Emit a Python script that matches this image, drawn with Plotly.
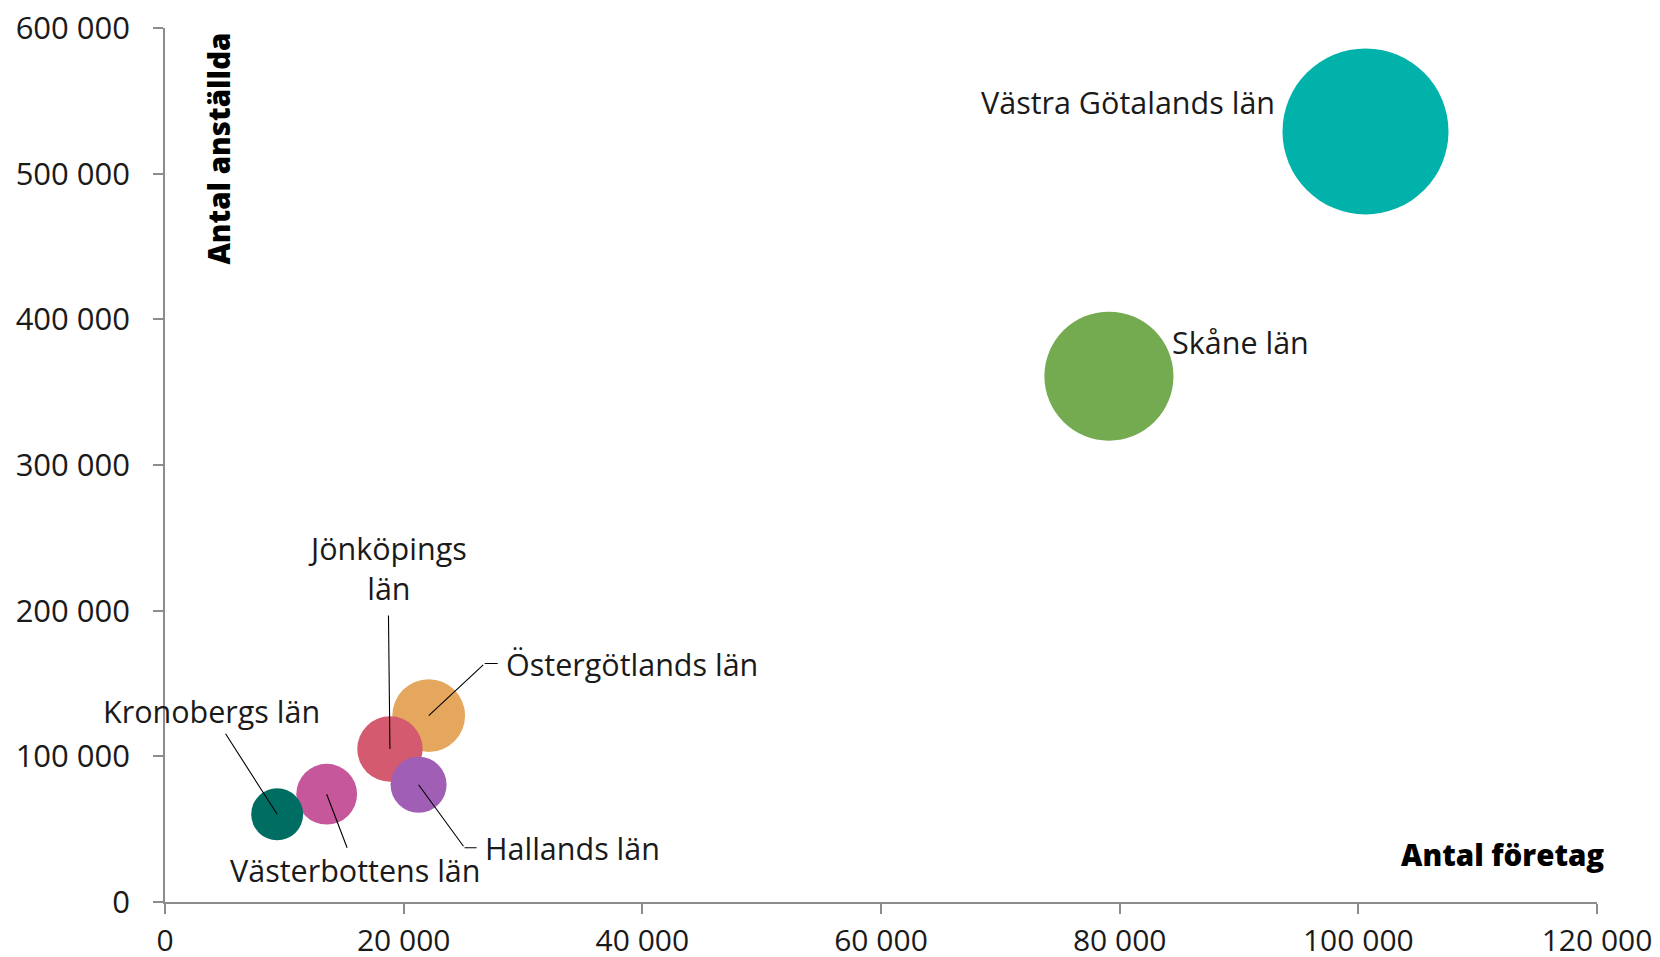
import plotly.graph_objects as go

# ---- data ----
lan = ["Västra Götalands län", "Skåne län", "Östergötlands län", "Jönköpings län",
       "Hallands län", "Västerbottens län", "Kronobergs län"]
etiketter = ["Västra Götalands län", "Skåne län", "Östergötlands län", "Jönköpings<br>län",
             "Hallands län", "Västerbottens län", "Kronobergs län"]
antal_foretag = [100600, 79100, 22100, 18850, 21250, 13550, 9400]
antal_anstallda = [529000, 361000, 128000, 105000, 80500, 74000, 60200]
bubbelvarde = [100, 60.4, 19.2, 15.5, 11.4, 13.4, 9.8]   # relativ bubbelstorlek
farger = ["#00B2A9", "#74AA50", "#E5A75D", "#D35A6F", "#A05EB5", "#C5579A", "#006D63"]

x_ticks = [0, 20000, 40000, 60000, 80000, 100000, 120000]
y_ticks = [0, 100000, 200000, 300000, 400000, 500000, 600000]

# ---- style ----
FONT = "Open Sans"
TXT = "#1a1a1a"
AXC = "#8c8c8c"
MAX_D = 166

fig = go.Figure(go.Scatter(
    x=antal_foretag, y=antal_anstallda, mode="markers",
    marker=dict(size=bubbelvarde, sizemode="area",
                sizeref=2 * max(bubbelvarde) / MAX_D ** 2,
                color=farger, opacity=1, line=dict(width=0)),
    text=lan, hoverinfo="text", cliponaxis=False, showlegend=False))

# label placement (pixel offsets from bubble centre)
placering = {
    "Västra Götalands län": dict(kind="text", xanchor="right", dx=-88, dy=-29),
    "Skåne län": dict(kind="text", xanchor="left", dx=61, dy=-34),
    "Östergötlands län": dict(kind="elbow", ex=56, ey=-52, seg=13),
    "Jönköpings län": dict(kind="line", ax=-2, ay=-181, pad=6),
    "Hallands län": dict(kind="elbow", ex=46, ey=63, seg=12),
    "Västerbottens län": dict(kind="line", ax=29, ay=76, pad=1),
    "Kronobergs län": dict(kind="line", ax=-66, ay=-103, pad=1),
}

lab_font = dict(family=FONT, size=30.5, color=TXT)
annotations = []
for namn, etikett, xv, yv in zip(lan, etiketter, antal_foretag, antal_anstallda):
    p = placering[namn]
    if p["kind"] == "text":
        annotations.append(dict(x=xv, y=yv, xref="x", yref="y", text=etikett,
                                showarrow=False, xanchor=p["xanchor"], yanchor="middle",
                                xshift=p["dx"], yshift=-p["dy"], font=lab_font))
    elif p["kind"] == "line":
        annotations.append(dict(x=xv, y=yv, xref="x", yref="y", text=etikett,
                                showarrow=True, ax=p["ax"], ay=p["ay"], arrowhead=0,
                                arrowwidth=1.1, arrowcolor="#000000", standoff=0,
                                borderpad=p["pad"], align="center", font=lab_font))
    else:
        annotations.append(dict(x=xv, y=yv, xref="x", yref="y", text="",
                                showarrow=True, ax=p["ex"], ay=p["ey"], arrowhead=0,
                                arrowwidth=1.1, arrowcolor="#000000", standoff=0))
        annotations.append(dict(x=xv, y=yv, xref="x", yref="y", text=etikett,
                                showarrow=True, ax=p["seg"], ay=0, arrowhead=0,
                                arrowwidth=1.1, arrowcolor="#000000", standoff=0,
                                xshift=p["ex"], yshift=-p["ey"], xanchor="left",
                                borderpad=7, font=lab_font))

title_font = dict(family=FONT, size=29.5, color="#000000", weight=800)
annotations.append(dict(x=0.0372, y=0.8623, xref="paper", yref="paper",
                        text="Antal anställda", textangle=-90, showarrow=False,
                        xanchor="center", yanchor="middle", font=title_font))
annotations.append(dict(x=1.0063, y=0.054, xref="paper", yref="paper",
                        text="Antal företag", showarrow=False,
                        xanchor="right", yanchor="middle", font=title_font))

axis_common = dict(showgrid=False, zeroline=False, showline=True, linecolor=AXC,
                   linewidth=1.5, ticks="outside", ticklen=10, tickwidth=1.5,
                   tickcolor=AXC, tickformat=",d", automargin=False)

fig.update_layout(
    width=1660, height=957,
    margin=dict(l=165, r=63, t=28, b=55, autoexpand=False),
    paper_bgcolor="white", plot_bgcolor="white",
    separators=", ",
    xaxis=dict(range=[0, 120000], tickvals=x_ticks, ticklabelstandoff=1,
               tickfont=dict(family=FONT, size=30, color=TXT), **axis_common),
    yaxis=dict(range=[0, 600000], tickvals=y_ticks, ticklabelstandoff=17,
               tickfont=dict(family=FONT, size=31, color=TXT), **axis_common),
    annotations=annotations,
)

fig.write_html("out.html", config={"displayModeBar": False},
               post_script="document.body.style.margin='0';document.body.style.overflow='hidden';")
